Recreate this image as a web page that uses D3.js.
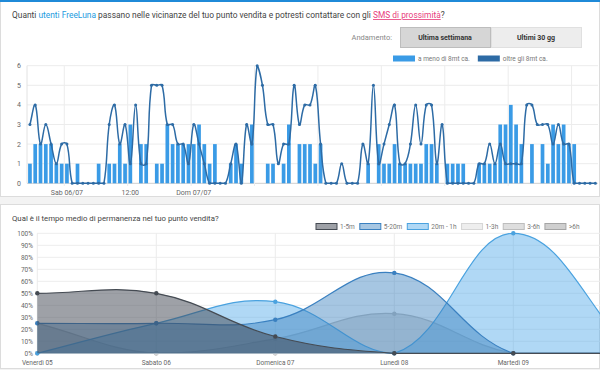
<!DOCTYPE html>
<html>
<head>
<meta charset="utf-8">
<script src="https://cdn.jsdelivr.net/npm/d3@7"></script>
<style>
  body { margin: 0; background: #f3f3f3; font-family: Roboto, "Open Sans", sans-serif; }
  svg { display: block; }
</style>
</head>
<body>
<svg id="chart" width="600" height="370"></svg>
<script>
// ---- top chart data (hourly, from Fri 05/07 17:00) ----
var firstHour = new Date(2019, 6, 5, 17, 0);
var nearLabel = "a meno di 8mt ca.";
var farLabel = "oltre gli 8mt ca.";
var nearCounts = [
  1,2,2,2,2,1,1,1,0,1,
  0,0,0,1,0,1,1,2,1,3,
  0,2,2,0,1,1,3,2,2,2,
  2,2,3,2,1,2,0,0,1,2,
  1,0,3,0,0,1,1,0,1,3,
  0,2,2,2,1,2,0,0,0,0,
  0,0,0,0,1,0,2,1,1,2,
  1,1,1,1,1,2,2,1,0,1,
  1,1,1,0,0,1,1,1,1,3,
  3,4,3,2,0,2,0,2,1,3,
  2,3,2,2,0,0,0,0
];
var farCounts = [
  3,4,2,3,2,1,2,2,0,0,
  0,0,0,0,0,3,4,2,3,1,
  4,1,1,5,5,5,3,3,2,2,
  1,3,2,1,0,0,0,0,1,2,
  0,3,2,6,5,3,3,1,2,2,
  5,3,4,4,5,2,0,0,0,1,
  0,0,0,2,1,5,1,2,3,4,
  1,1,2,4,2,4,4,1,3,0,
  0,0,0,0,0,1,1,2,1,2,
  1,1,1,1,4,4,3,3,3,2,
  3,2,2,0,0,0,0,0
];
var countTicks = [0, 1, 2, 3, 4, 5, 6];
var gridHours = [
  new Date(2019, 6, 6, 0), new Date(2019, 6, 6, 12),
  new Date(2019, 6, 7, 0), new Date(2019, 6, 7, 12),
  new Date(2019, 6, 8, 0), new Date(2019, 6, 8, 12),
  new Date(2019, 6, 9, 0), new Date(2019, 6, 9, 12),
  new Date(2019, 6, 10, 0)
];
var gridLabels = ["Sab 06/07", "12:00", "Dom 07/07", "", "", "", "", "", ""];

// ---- bottom chart data ----
var days = ["Venerdì 05", "Sabato 06", "Domenica 07", "Lunedì 08", "Martedì 09", "Mercoledì 10"];
var stayNames = ["1-5m", "5-20m", "20m - 1h", "1-3h", "3-6h", ">6h"];
var stay1to5m = [50, 50, 14, 0, 0, 0];
var stay5to20m = [25, 25, 28, 67, 0, 0];
var stay20mTo1h = [0, 25, 43, 0, 100, 0];
var stay1to3h = [0, 0, 0, 0, 0, 0];
var stay3to6h = [25, 0, 12, 33, 0, 0];
var stayOver6h = [0, 0, 0, 0, 0, 0];
var percentTicks = [0, 10, 20, 30, 40, 50, 60, 70, 80, 90, 100];

var barColor = "#3a9be6";
var lineColor = "#2d6ba5";
var stayFill = ["rgba(62,68,80,0.5)", "rgba(58,128,190,0.45)", "rgba(80,168,232,0.45)",
                "rgba(222,222,222,0.5)", "rgba(190,190,190,0.5)", "rgba(160,160,160,0.5)"];
var stayStroke = ["#454b53", "#3a80c0", "#4aa2df", "#d6d6d6", "#bdbdbd", "#a5a5a5"];

var svg = d3.select("#chart");

function fitText(sel, width) {
  var w = sel.node().getComputedTextLength();
  sel.attr("font-size", parseFloat(sel.attr("font-size")) * width / w);
}

// bezier spline with tension, control points kept inside the plot box
function splinePath(pts, tension, box) {
  function cap(v, lo, hi) { return Math.max(lo, Math.min(hi, v)); }
  var ctrl = pts.map(function(m, i) {
    var p = pts[i - 1] || m, n = pts[i + 1] || m;
    var d01 = Math.hypot(m[0] - p[0], m[1] - p[1]);
    var d12 = Math.hypot(n[0] - m[0], n[1] - m[1]);
    var s01 = d01 / (d01 + d12) || 0, s12 = d12 / (d01 + d12) || 0;
    var fa = tension * s01, fb = tension * s12;
    return {
      prev: [cap(m[0] - fa * (n[0] - p[0]), box[0], box[2]), cap(m[1] - fa * (n[1] - p[1]), box[1], box[3])],
      next: [cap(m[0] + fb * (n[0] - p[0]), box[0], box[2]), cap(m[1] + fb * (n[1] - p[1]), box[1], box[3])]
    };
  });
  var path = d3.path();
  path.moveTo(pts[0][0], pts[0][1]);
  for (var i = 1; i < pts.length; i++) {
    path.bezierCurveTo(ctrl[i - 1].next[0], ctrl[i - 1].next[1], ctrl[i].prev[0], ctrl[i].prev[1], pts[i][0], pts[i][1]);
  }
  return path.toString();
}

// ---- cards ----
svg.append("rect").attr("x", 0.5).attr("y", 0.5).attr("width", 599).attr("height", 196)
  .attr("fill", "#fff").attr("stroke", "#dcdcdc");
svg.append("rect").attr("x", 0).attr("y", 0).attr("width", 600).attr("height", 2).attr("fill", "#1f8ad8");
svg.append("rect").attr("x", 0.5).attr("y", 204.5).attr("width", 599).attr("height", 164)
  .attr("fill", "#fff").attr("stroke", "#dcdcdc");

// ---- top title ----
var t1 = svg.append("text").attr("x", 12).attr("y", 18).attr("font-size", 10).attr("fill", "#444");
t1.append("tspan").text("Quanti ");
t1.append("tspan").attr("fill", "#1d9be0").text("utenti FreeLuna");
t1.append("tspan").text(" passano nelle vicinanze del tuo punto vendita e potresti contattare con gli ");
t1.append("tspan").attr("fill", "#e8407d").attr("text-decoration", "underline").text("SMS di prossimità");
t1.append("tspan").text("?");
fitText(t1, 433);

// ---- buttons ----
svg.append("text").attr("x", 392).attr("y", 40).attr("text-anchor", "end")
  .attr("font-size", 7.5).attr("fill", "#888").text("Andamento:");
svg.append("rect").attr("x", 400.5).attr("y", 27.5).attr("width", 90).attr("height", 20)
  .attr("fill", "#d6d6d6").attr("stroke", "#bdbdbd");
svg.append("rect").attr("x", 491.5).attr("y", 27.5).attr("width", 90).attr("height", 20)
  .attr("fill", "#ededed").attr("stroke", "#e0e0e0");
svg.append("text").attr("x", 445).attr("y", 40).attr("text-anchor", "middle")
  .attr("font-size", 7).attr("font-weight", "bold").attr("fill", "#333").text("Ultima settimana");
svg.append("text").attr("x", 536).attr("y", 40).attr("text-anchor", "middle")
  .attr("font-size", 7).attr("font-weight", "bold").attr("fill", "#333").text("Ultimi 30 gg");

// ---- top chart ----
var hours = nearCounts.map(function(d, i) { return d3.timeHour.offset(firstHour, i); });
var x1 = d3.scaleTime()
  .domain([d3.timeMinute.offset(hours[0], -30), d3.timeMinute.offset(hours[hours.length - 1], 30)])
  .range([27.3, 598]);
var y1 = d3.scaleLinear().domain([0, 6]).range([183.3, 65.7]);
var slot = x1(hours[1]) - x1(hours[0]);

var topG = svg.append("g");
topG.selectAll(".hgrid").data(countTicks).enter().append("line")
  .attr("x1", 27).attr("x2", 598)
  .attr("y1", function(d) { return y1(d); }).attr("y2", function(d) { return y1(d); })
  .attr("stroke", function(d) { return d === 0 ? "#cfcfcf" : "#ececec"; });
topG.selectAll(".vgrid").data(gridHours).enter().append("line")
  .attr("x1", function(d) { return x1(d3.timeMinute.offset(d, -30)); })
  .attr("x2", function(d) { return x1(d3.timeMinute.offset(d, -30)); })
  .attr("y1", 65.7).attr("y2", 186)
  .attr("stroke", "#ececec");
topG.append("line").attr("x1", 27).attr("x2", 27).attr("y1", 65.7).attr("y2", 183.3).attr("stroke", "#e2e2e2");

topG.selectAll(".ylab").data(countTicks).enter().append("text")
  .attr("x", 21).attr("y", function(d) { return y1(d) + 2.5; })
  .attr("text-anchor", "end").attr("font-size", 7).attr("fill", "#666")
  .text(function(d) { return d; });
topG.selectAll(".xlab").data(gridHours).enter().append("text")
  .attr("x", function(d) { return x1(d); }).attr("y", 195)
  .attr("text-anchor", "middle").attr("font-size", 7).attr("fill", "#666")
  .text(function(d, i) { return gridLabels[i]; });

var plot1 = topG.append("g");
plot1.selectAll(".bar").data(nearCounts).enter().append("rect")
  .attr("x", function(d, i) { return x1(hours[i]) - slot * 0.35; })
  .attr("width", slot * 0.7)
  .attr("y", function(d) { return y1(d); })
  .attr("height", function(d) { return y1(0) - y1(d); })
  .attr("fill", barColor);

var farPts = farCounts.map(function(d, i) { return [x1(hours[i]), y1(d)]; });
plot1.append("path")
  .attr("d", splinePath(farPts, 0.4, [x1.range()[0], y1(6), x1.range()[1], y1(0)]))
  .attr("fill", "none").attr("stroke", lineColor).attr("stroke-width", 1.5);
plot1.selectAll(".dot").data(farCounts).enter().append("circle")
  .attr("cx", function(d, i) { return x1(hours[i]); })
  .attr("cy", function(d) { return y1(d); })
  .attr("r", 1.5).attr("fill", lineColor);

// top legend
var topLegend = [{ label: nearLabel, color: barColor }, { label: farLabel, color: lineColor }];
var lg1 = svg.append("g");
var lx = 393;
topLegend.forEach(function(item) {
  lg1.append("rect").attr("x", lx).attr("y", 55.5).attr("width", 22).attr("height", 6).attr("fill", item.color);
  var tx = lg1.append("text").attr("x", lx + 25).attr("y", 61).attr("font-size", 6.5).attr("fill", "#777").text(item.label);
  lx += 25 + tx.node().getComputedTextLength() + 8;
});

// ---- bottom title ----
var t2 = svg.append("text").attr("x", 12).attr("y", 221).attr("font-size", 10).attr("fill", "#444")
  .text("Qual è il tempo medio di permanenza nel tuo punto vendita?");
fitText(t2, 207);

// ---- bottom chart ----
var x2 = d3.scalePoint().domain(days).range([37.3, 632.3]);
var y2 = d3.scaleLinear().domain([0, 100]).range([353.3, 233.3]);
var bottomG = svg.append("g");

bottomG.selectAll(".hgrid").data(percentTicks).enter().append("line")
  .attr("x1", 37).attr("x2", 600)
  .attr("y1", function(d) { return y2(d); }).attr("y2", function(d) { return y2(d); })
  .attr("stroke", function(d) { return d === 0 ? "#cfcfcf" : "#ededed"; });
bottomG.selectAll(".vgrid").data(days).enter().append("line")
  .attr("x1", function(d) { return x2(d); }).attr("x2", function(d) { return x2(d); })
  .attr("y1", 233.3).attr("y2", 356)
  .attr("stroke", "#ececec");
bottomG.selectAll(".ylab").data(percentTicks).enter().append("text")
  .attr("x", 33).attr("y", function(d) { return y2(d) + 2.5; })
  .attr("text-anchor", "end").attr("font-size", 6.5).attr("fill", "#666")
  .text(function(d) { return d + "%"; });
// the last day falls beyond the visible width, like in the screenshot
bottomG.selectAll(".xlab").data(days.filter(function(d) { return x2(d) < 580; })).enter().append("text")
  .attr("x", function(d) { return x2(d); }).attr("y", 365)
  .attr("text-anchor", "middle").attr("font-size", 6.5).attr("fill", "#666")
  .text(function(d) { return d; });

var staySeries = [stay1to5m, stay5to20m, stay20mTo1h, stay1to3h, stay3to6h, stayOver6h];
var box2 = [x2.range()[0], y2(100), x2.range()[1], y2(0)];

// first dataset ends up on top, like Chart.js
for (var s = staySeries.length - 1; s >= 0; s--) {
  var pts = staySeries[s].map(function(d, i) { return [x2(days[i]), y2(d)]; });
  var linePath = splinePath(pts, 0.4, box2);
  var g = bottomG.append("g");
  g.append("path")
    .attr("d", linePath + "L" + pts[pts.length - 1][0] + "," + y2(0) + "L" + pts[0][0] + "," + y2(0) + "Z")
    .attr("fill", stayFill[s]);
  g.append("path").attr("d", linePath)
    .attr("fill", "none").attr("stroke", stayStroke[s]).attr("stroke-width", 1.2);
  g.selectAll("circle").data(staySeries[s]).enter().append("circle")
    .attr("cx", function(d, i) { return x2(days[i]); })
    .attr("cy", function(d) { return y2(d); })
    .attr("r", 2.2).attr("fill", stayStroke[s]);
}

// bottom legend
var lg2 = svg.append("g");
var bx = 316;
stayNames.forEach(function(name, i) {
  lg2.append("rect").attr("x", bx).attr("y", 223.5).attr("width", 21).attr("height", 6)
    .attr("fill", stayFill[i]).attr("stroke", stayStroke[i]);
  var tx = lg2.append("text").attr("x", bx + 24).attr("y", 229).attr("font-size", 6.5)
    .attr("fill", "#777").text(name);
  bx += 24 + tx.node().getComputedTextLength() + 5;
});
</script>
</body>
</html>
